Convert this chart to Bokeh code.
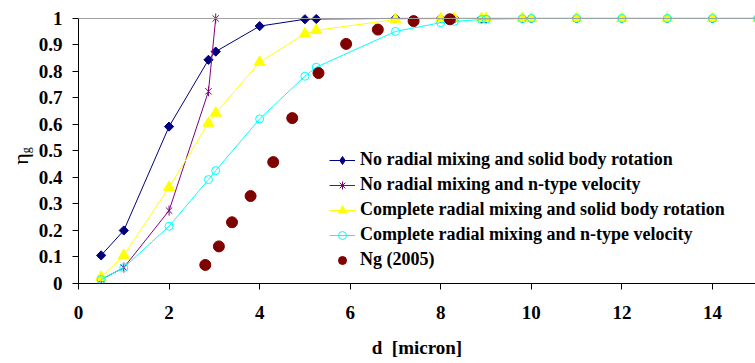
import math
from bokeh.plotting import figure
from bokeh.models import Span, FixedTicker, Range1d, Div
from bokeh.layouts import row
from bokeh.embed import file_html
from bokeh.resources import INLINE

# ---- data ----
d_model = [0.5, 1, 2, 2.87, 3.03, 4, 5, 5.25, 7, 8, 8.3, 8.9, 9.0, 9.8, 10, 11, 12, 13, 14, 15]
eta_noradial_solid = [0.106, 0.2, 0.592, 0.844, 0.875, 0.971, 0.997, 0.998, 1.0, 1.0, 1.0, 1.0, 1.0, 1.0, 1.0, 1.0, 1.0, 1.0, 1.0, 1.0]
d_ntype = [0.5, 1, 2, 2.87, 3.03]
eta_noradial_ntype = [0.015, 0.06, 0.275, 0.725, 1.0]
eta_complete_solid = [0.024, 0.106, 0.363, 0.605, 0.643, 0.835, 0.942, 0.955, 0.996, 0.999, 1.0, 1.0, 1.0, 1.0, 1.0, 1.0, 1.0, 1.0, 1.0, 1.0]
eta_complete_ntype = [0.015, 0.06, 0.216, 0.392, 0.426, 0.621, 0.782, 0.816, 0.951, 0.984, 0.989, 0.996, 0.997, 0.999, 1.0, 1.0, 1.0, 1.0, 1.0, 1.0]
d_ng = [2.8, 3.1, 3.39, 3.8, 4.3, 4.72, 5.3, 5.91, 6.61, 7.4, 8.2]
eta_ng = [0.07, 0.14, 0.231, 0.33, 0.458, 0.624, 0.794, 0.904, 0.958, 0.99, 0.997]

x_ticks = [0, 2, 4, 6, 8, 10, 12, 14]
y_ticks = [0, 0.1, 0.2, 0.3, 0.4, 0.5, 0.6, 0.7, 0.8, 0.9, 1]
y_tick_labels = ["0", "0.1", "0.2", "0.3", "0.4", "0.5", "0.6", "0.7", "0.8", "0.9", "1"]

names = ["No radial mixing and solid body rotation",
         "No radial mixing and n-type velocity",
         "Complete radial mixing and solid body rotation",
         "Complete radial mixing and n-type velocity",
         "Ng (2005)"]

FONT = "Liberation Serif"

p = figure(width=721, height=363, x_range=Range1d(0, 14.95), y_range=Range1d(0, 1.03),
           output_backend="svg", toolbar_location=None,
           min_border_left=44, min_border_right=0, min_border_top=10, min_border_bottom=80)
p.outline_line_color = None
p.xgrid.visible = False
p.ygrid.visible = False
p.background_fill_color = "white"

p.add_layout(Span(location=1, dimension="width", line_color="#a0a0a0", line_width=1))

# series 1 (legend marker drawn by a zero-size diamond proxy; Bokeh legends ignore angle)
navy = "#000080"
p.line(d_model, eta_noradial_solid, line_color=navy, line_width=1, legend_label=names[0])
p.scatter(d_model, eta_noradial_solid, marker="square", angle=math.pi / 4, size=6.5,
          fill_color=navy, line_color=navy)
p.scatter(d_model, eta_noradial_solid, marker="diamond", size=0, fill_color=navy,
          line_color=navy, legend_label=names[0])
# series 2
purple = "#800080"
p.line(d_ntype, eta_noradial_ntype, line_color=purple, line_width=1, legend_label=names[1])
p.scatter(d_ntype, eta_noradial_ntype, marker="x", size=9, line_color=purple, line_width=1)
p.scatter(d_ntype, eta_noradial_ntype, marker="dash", angle=math.pi / 2, size=10,
          line_color=purple, line_width=1)
p.scatter(d_ntype, eta_noradial_ntype, marker="asterisk", size=0, line_color=purple,
          line_width=1, legend_label=names[1])
# series 3
yellow = "#FFFF00"
p.line(d_model, eta_complete_solid, line_color=yellow, line_width=1, legend_label=names[2])
p.scatter(d_model, eta_complete_solid, marker="triangle", size=11,
          fill_color=yellow, line_color=yellow, legend_label=names[2])
# series 4
cyan = "#00FFFF"
p.line(d_model, eta_complete_ntype, line_color=cyan, line_width=1, legend_label=names[3])
p.scatter(d_model, eta_complete_ntype, marker="circle", size=8, fill_color=None,
          line_color=cyan, line_width=1, legend_label=names[3])
# series 5
dred = "#800000"
p.scatter(d_ng, eta_ng, marker="circle", size=11, fill_color=dred, line_color=dred,
          legend_label=names[4])

# axes
p.axis.axis_line_color = "black"
p.axis.axis_line_width = 1
p.axis.major_tick_in = 0
p.axis.major_tick_out = 6
p.axis.minor_tick_in = 0
p.axis.minor_tick_out = 0
p.axis.major_tick_line_color = "black"
p.axis.major_label_text_font = FONT
p.axis.major_label_text_font_style = "bold"
p.axis.major_label_text_font_size = "19px"
p.axis.major_label_text_color = "black"

p.xaxis.ticker = FixedTicker(ticks=x_ticks)
p.xaxis.major_label_standoff = 16
p.xaxis.axis_label = "d\u00a0\u00a0[micron]"
p.xaxis.axis_label_text_font = FONT
p.xaxis.axis_label_text_font_style = "bold"
p.xaxis.axis_label_text_font_size = "19px"
p.xaxis.axis_label_text_color = "black"
p.xaxis.axis_label_standoff = 15

p.yaxis.ticker = FixedTicker(ticks=y_ticks)
p.yaxis.major_label_overrides = dict(zip(y_ticks, y_tick_labels))
p.yaxis.major_label_standoff = 10
p.yaxis.bounds = (0, 1)

# legend
lg = p.legend[0]
lg.location = (251, 13)
lg.background_fill_alpha = 0
lg.border_line_color = None
lg.padding = 0
lg.margin = 0
lg.spacing = 4
lg.glyph_width = 26
lg.glyph_height = 20
lg.label_height = 20
lg.label_standoff = 5
lg.label_text_font = FONT
lg.label_text_font_style = "bold"
lg.label_text_font_size = "18px"
lg.label_text_color = "black"

# y axis label: eta with subscript g
ylab = Div(
    text=('<div style="position:relative;width:34px;height:363px;">'
          '<div style="position:absolute;left:21px;top:156px;'
          'transform:translate(-50%,-50%) rotate(-90deg);white-space:nowrap;'
          "font-family:'Liberation Serif';font-size:22px;color:black;line-height:1;\">"
          '&eta;<span style="font-size:12px;position:relative;top:2px;">g</span></div></div>'),
    width=34, height=363, margin=(0, 0, 0, 0))

layout = row(ylab, p, spacing=0)
open("out.html", "w").write(file_html(layout, INLINE))
